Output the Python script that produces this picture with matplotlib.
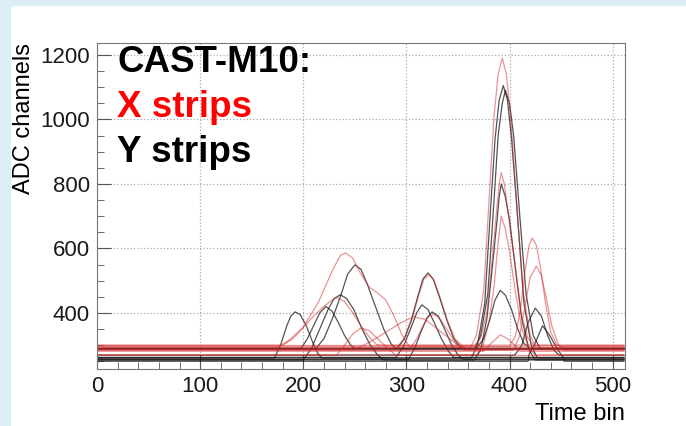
import matplotlib
matplotlib.use("Agg")
import matplotlib.pyplot as plt
from matplotlib.patches import Rectangle
from matplotlib.ticker import MultipleLocator

# --- traces: (time bin, ADC) points per strip ---
# X strips (red)
x01 = [(0, 292), (362, 292), (368, 330), (375, 470), (380, 740), (385, 1010), (389, 1140), (393, 1190),
       (397, 1140), (401, 1010), (407, 740), (413, 470), (420, 330), (426, 292), (511, 292)]
x02 = [(0, 299), (366, 299), (372, 320), (378, 400), (383, 560), (387, 700), (390, 800), (392, 835),
       (395, 800), (399, 700), (405, 560), (411, 400), (418, 320), (424, 299), (511, 299)]
x03 = [(0, 270), (368, 270), (374, 295), (380, 370), (385, 480), (389, 620), (392, 700), (396, 660),
       (400, 590), (406, 460), (412, 350), (419, 290), (425, 270), (511, 270)]
x04 = [(0, 296), (400, 296), (406, 330), (411, 420), (415, 530), (419, 610), (422, 632), (426, 610),
       (430, 540), (435, 430), (440, 340), (446, 300), (450, 296), (511, 296)]
x05 = [(0, 284), (404, 284), (410, 330), (415, 420), (420, 510), (426, 545), (431, 515), (436, 440),
       (441, 360), (447, 305), (452, 284), (511, 284)]
x06 = [(0, 281), (375, 281), (382, 305), (391, 332), (398, 320), (405, 300), (410, 281), (511, 281)]
x07 = [(0, 294), (175, 294), (185, 312), (200, 355), (215, 435), (228, 530), (236, 578), (241, 586),
       (248, 570), (256, 520), (264, 480), (272, 462), (280, 440), (288, 390), (296, 330), (303, 295),
       (511, 294)]
x08 = [(0, 300), (180, 300), (190, 320), (200, 355), (210, 390), (220, 420), (228, 440), (233, 447),
       (240, 435), (248, 400), (256, 360), (264, 325), (271, 302), (276, 300), (511, 300)]
x09 = [(0, 268), (232, 268), (240, 300), (248, 335), (256, 353), (264, 345), (272, 320), (282, 290),
       (290, 268), (511, 268)]
x10 = [(0, 287), (250, 287), (265, 310), (280, 340), (295, 370), (307, 388), (318, 380), (330, 350),
       (342, 320), (352, 295), (358, 287), (511, 287)]
x11 = [(0, 290), (292, 290), (299, 325), (306, 385), (312, 455), (317, 505), (322, 518), (327, 500),
       (333, 445), (340, 375), (347, 320), (354, 298), (358, 290), (511, 290)]
x12 = [(0, 285), (303, 285), (310, 320), (317, 365), (322, 390), (327, 395), (333, 380), (340, 345),
       (347, 310), (353, 290), (356, 285), (511, 285)]

# Y strips (black)
y01 = [(0, 260), (363, 260), (369, 300), (376, 430), (381, 690), (386, 940), (390, 1060), (394, 1105),
       (398, 1060), (402, 940), (408, 690), (414, 430), (421, 300), (427, 260), (511, 260)]
y02 = [(0, 288), (366, 288), (372, 330), (379, 460), (384, 700), (389, 950), (393, 1050), (396, 1090),
       (400, 1050), (404, 950), (410, 700), (416, 460), (423, 330), (430, 288), (511, 288)]
y03 = [(0, 254), (366, 254), (372, 285), (378, 380), (383, 530), (388, 690), (390, 760), (392, 800),
       (396, 760), (400, 690), (406, 530), (412, 380), (419, 285), (425, 254), (511, 254)]
y04 = [(0, 290), (368, 290), (375, 320), (381, 380), (386, 440), (391, 470), (396, 455), (402, 410),
       (408, 350), (414, 305), (420, 290), (511, 290)]
y05 = [(0, 269), (405, 269), (412, 300), (418, 370), (425, 415), (431, 390), (437, 330), (443, 285),
       (448, 269), (511, 269)]
y06 = [(0, 288), (212, 288), (220, 320), (228, 380), (236, 450), (243, 520), (250, 549), (256, 535),
       (262, 490), (270, 420), (278, 350), (285, 305), (290, 288), (511, 288)]
y07 = [(0, 260), (172, 260), (178, 300), (184, 360), (188, 390), (192, 403), (197, 395), (203, 360),
       (209, 310), (214, 275), (218, 260), (511, 260)]
y08 = [(0, 254), (200, 254), (208, 290), (216, 350), (224, 410), (230, 445), (236, 456), (242, 445),
       (249, 410), (257, 350), (265, 300), (272, 270), (278, 254), (511, 254)]
y09 = [(0, 290), (198, 290), (204, 320), (210, 360), (216, 400), (222, 420), (228, 405), (234, 370),
       (240, 330), (246, 300), (250, 290), (511, 290)]
y10 = [(0, 288), (290, 288), (298, 320), (305, 380), (311, 450), (316, 505), (321, 524), (326, 505),
       (332, 450), (339, 380), (346, 320), (353, 292), (358, 288), (511, 288)]
y11 = [(0, 262), (290, 262), (297, 295), (304, 350), (310, 400), (315, 425), (321, 410), (327, 370),
       (334, 320), (341, 280), (346, 262), (511, 262)]
y12 = [(0, 256), (302, 256), (308, 290), (314, 340), (320, 385), (325, 403), (331, 390), (337, 350),
       (344, 300), (350, 270), (355, 256), (511, 256)]
y13 = [(0, 250), (418, 250), (419, 272), (424, 300), (432, 360), (439, 330), (446, 290), (452, 262),
       (453, 250), (511, 250)]

x_traces = [x01, x02, x03, x04, x05, x06, x07, x08, x09, x10, x11, x12]
y_traces = [y01, y02, y03, y04, y05, y06, y07, y08, y09, y10, y11, y12, y13]

x_major = [0, 100, 200, 300, 400, 500]
y_major = [400, 600, 800, 1000, 1200]

plt.rcParams['font.family'] = ['Liberation Sans', 'DejaVu Sans']

fig = plt.figure(figsize=(6.86, 4.26), dpi=100)
fig.patch.set_facecolor('white')
# light blue slide border (top and left)
fig.patches.append(Rectangle((0, 0), 10 / 686, 1, transform=fig.transFigure, color='#dcedf5', zorder=0))
fig.patches.append(Rectangle((0, 1 - 5 / 426), 1, 5 / 426, transform=fig.transFigure, color='#dcedf5', zorder=0))

ax = fig.add_axes([97 / 686, 1 - 369 / 426, 528 / 686, 326 / 426])

for tr in y_traces:
    ax.plot([p[0] for p in tr], [p[1] for p in tr], color='#1a1a1a', lw=0.9, alpha=0.75)
for tr in x_traces:
    ax.plot([p[0] for p in tr], [p[1] for p in tr], color='#d42a2a', lw=0.9, alpha=0.5)

ax.set_xlim(0, 512)
ax.set_ylim(226, 1237)
ax.set_xticks(x_major)
ax.set_yticks(y_major)
ax.xaxis.set_minor_locator(MultipleLocator(20))
ax.yaxis.set_minor_locator(MultipleLocator(50))
ax.tick_params(which='both', direction='in', color='#555555', labelsize=16, labelcolor='#1a1a1a')
ax.tick_params(which='major', length=10, pad=5)
ax.tick_params(which='minor', length=5)
ax.grid(True, which='major', linestyle=':', color='#aaaaaa', lw=0.9)
for s in ax.spines.values():
    s.set_color('#777777')

ax.set_xlabel('Time bin', fontsize=17, loc='right', labelpad=4)
ax.set_ylabel('ADC channels', fontsize=17, loc='top', labelpad=4)

fig.text(117 / 686, 1 - 72 / 426, 'CAST-M10:', fontsize=26.5, fontweight='bold', color='black', va='baseline')
fig.text(117 / 686, 1 - 117 / 426, 'X strips', fontsize=26.5, fontweight='bold', color='#ff0000', va='baseline')
fig.text(117 / 686, 1 - 162 / 426, 'Y strips', fontsize=26.5, fontweight='bold', color='black', va='baseline')

fig.savefig('out.png', dpi=100)
